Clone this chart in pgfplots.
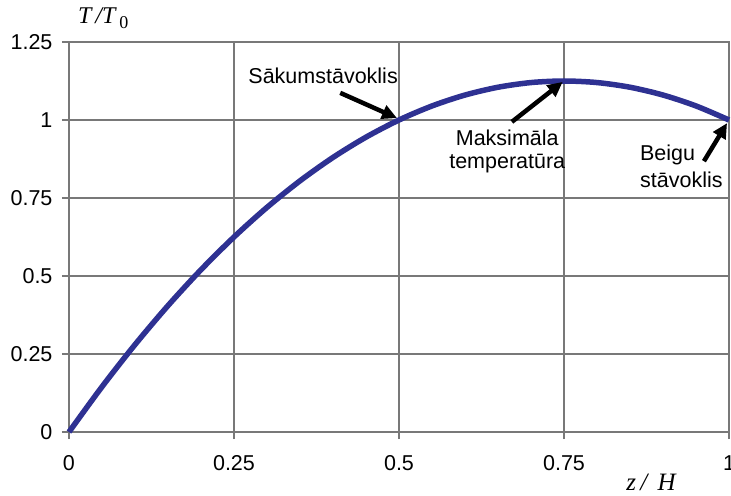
\documentclass[border=0pt]{standalone}
\usepackage{fontspec}
\setmainfont{Liberation Sans}
\newfontfamily\seriffont{Liberation Serif}
\usepackage{pgfplots}
\pgfplotsset{compat=1.18}
\usetikzlibrary{arrows.meta}
\definecolor{curve}{HTML}{2E3192}
\definecolor{gridc}{HTML}{787878}
\begin{document}
\begin{tikzpicture}
\begin{axis}[
  x=660pt, y=312pt,
  xmin=0, xmax=1, ymin=0, ymax=1.25,
  scale only axis,
  xtick={0,0.25,0.5,0.75,1},
  ytick={0,0.25,0.5,0.75,1,1.25},
  grid=major,
  major grid style={draw=gridc, line width=1.2pt},
  axis line style={draw=gridc, line width=1.2pt},
  tick style={draw=gridc, line width=1.2pt},
  major tick length=7pt,
  tick pos=left,
  tick align=outside,
  /pgf/number format/assume math mode=true,
  ticklabel style={font=\fontsize{21.5}{24}\selectfont},
  yticklabel style={xshift=-6pt},
  xticklabel style={yshift=-13pt},
  clip=false,
]
\addplot[curve, line width=5.5pt, smooth] coordinates {
(0,0) (0.05,0.145) (0.1,0.28) (0.15,0.405) (0.2,0.52) (0.25,0.625)
(0.3,0.72) (0.35,0.805) (0.4,0.88) (0.45,0.945) (0.5,1)
(0.55,1.045) (0.6,1.08) (0.65,1.105) (0.7,1.12) (0.75,1.125)
(0.8,1.12) (0.85,1.105) (0.9,1.08) (0.95,1.045) (1,1)
};
\node[font=\fontsize{21.5}{24}\selectfont] at (axis cs:0.385,1.141) {Sākumstāvoklis};
\node[font=\fontsize{21.5}{23}\selectfont, align=center] at (axis cs:0.664,0.899) {Maksimāla\\temperatūra};
\node[font=\fontsize{21.5}{27}\selectfont, align=left, anchor=west] at (axis cs:0.860,0.851) {Beigu\\stāvoklis};
\draw[black, line width=4.5pt, -{Triangle[length=15pt,width=14pt]}] (axis cs:0.411,1.087) -- (axis cs:0.497,1.006);
\draw[black, line width=4.5pt, -{Triangle[length=15pt,width=14pt]}] (axis cs:0.671,0.994) -- (axis cs:0.748,1.122);
\draw[black, line width=4.5pt, -{Triangle[length=15pt,width=14pt]}] (axis cs:0.962,0.868) -- (axis cs:0.997,0.990);
\node[font=\fontsize{24}{26}\selectfont] at (axis cs:0.052,1.327) {{\seriffont\itshape T\,/T}\,\raisebox{-0.35ex}{\seriffont\fontsize{18}{20}\selectfont 0}};
\node[font=\fontsize{25}{27}\selectfont] at (axis cs:0.882,-0.162) {{\seriffont\itshape z\,/\, H}};
\coordinate (bl) at (axis cs:-0.1045,-0.2019);
\coordinate (tr) at (axis cs:1.003,1.3846);
\end{axis}
\pgfresetboundingbox
\path[use as bounding box] (bl) rectangle (tr);
\end{tikzpicture}
\end{document}
